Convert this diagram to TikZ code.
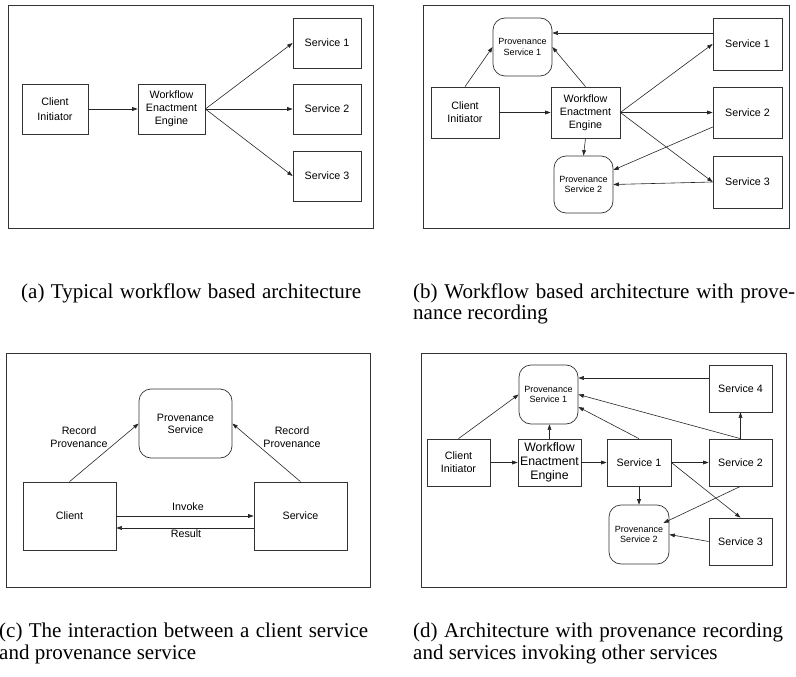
\documentclass[tikz,border=0pt]{standalone}
\usepackage{fontspec}
\setmainfont{Liberation Serif}
\newfontfamily\dsans{Liberation Sans}
\usetikzlibrary{arrows.meta}
\begin{document}
\begin{tikzpicture}[x=1pt,y=-1pt,
  edgeln/.style={draw=black!80, line width=0.7pt},
  nbox/.style={edgeln, rectangle, inner sep=0pt, align=center, font=\dsans\fontsize{10.7}{12.8}\selectfont},
  rbox/.style={nbox, rounded corners=12pt, font=\dsans\fontsize{9}{10.8}\selectfont},
  pframe/.style={draw=black!80, line width=0.8pt},
  arr/.style={draw=black!85, line width=0.6pt, -{Triangle[length=5.5pt,width=3.8pt]}},
  lbl/.style={font=\dsans\fontsize{10.7}{13.3}\selectfont, align=center, inner sep=0pt},
  captxt/.style={font=\fontsize{21}{21}\selectfont, inner sep=0pt, anchor=base west},
]
\useasboundingbox (0,0) rectangle (796,677);

% ---------------- (a)
\draw[pframe] (8,5) rectangle (373,228);
\node[nbox, minimum width=66pt, minimum height=50pt, font=\dsans\fontsize{10.7}{15.6}\selectfont] (aci) at (55,109) {Client\\Initiator};
\node[nbox, minimum width=67pt, minimum height=50pt] (awee) at (171.5,109) {Workflow\\Enactment\\Engine};
\node[nbox, minimum width=68pt, minimum height=50pt] (as1) at (327,43) {Service 1};
\node[nbox, minimum width=68pt, minimum height=50pt] (as2) at (327,109) {Service 2};
\node[nbox, minimum width=68pt, minimum height=50pt] (as3) at (327,176) {Service 3};
\draw[arr] (aci.east) -- (awee.west);
\draw[arr] (awee.east) -- (as1.west);
\draw[arr] (awee.east) -- (as2.west);
\draw[arr] (awee.east) -- (as3.west);

% ---------------- (b)
\draw[pframe] (423,5) rectangle (789,228);
\node[rbox, minimum width=59pt, minimum height=58pt] (bp1) at (522.5,47) {Provenance\\Service 1};
\node[nbox, minimum width=68pt, minimum height=51pt] (bci) at (465,112.5) {Client\\Initiator};
\node[nbox, minimum width=69pt, minimum height=51pt] (bwee) at (585.5,112.5) {Workflow\\Enactment\\Engine};
\node[nbox, minimum width=69pt, minimum height=52pt] (bs1) at (747.5,44) {Service 1};
\node[nbox, minimum width=69pt, minimum height=51pt] (bs2) at (747.5,112.5) {Service 2};
\node[nbox, minimum width=69pt, minimum height=52pt] (bs3) at (747.5,182) {Service 3};
\node[rbox, minimum width=59pt, minimum height=57pt] (bp2) at (583.5,184.5) {Provenance\\Service 2};
\draw[arr] (bci.north) -- (bp1.west);
\draw[arr] (bwee.north) -- (bp1.east);
\draw[arr] ([yshift=11pt]bs1.west) -- ([yshift=14pt]bp1.east);
\draw[arr] (bci.east) -- (bwee.west);
\draw[arr] (bwee.east) -- (bs1.west);
\draw[arr] (bwee.east) -- (bs2.west);
\draw[arr] (bwee.east) -- (bs3.west);
\draw[arr] (bwee.south) -- (bp2.north);
\draw[arr] ([yshift=-14.5pt]bs2.west) -- ([yshift=14.5pt]bp2.east);
\draw[arr] (bs3.west) -- (bp2.east);

% ---------------- (c)
\draw[pframe] (6,353) rectangle (370,587);
\node[rbox, minimum width=93pt, minimum height=69pt, font=\dsans\fontsize{10.7}{12}\selectfont] (cps) at (185.5,423.5) {Provenance\\Service};
\node[nbox, minimum width=93pt, minimum height=68pt] (ccl) at (69.5,516) {Client};
\node[nbox, minimum width=93pt, minimum height=68pt] (csv) at (300.5,516) {Service};
\draw[arr] (ccl.north) -- (cps.west);
\draw[arr] (csv.north) -- (cps.east);
\draw[arr] (ccl.east) -- (csv.west);
\draw[arr] ([yshift=-12pt]csv.west) -- ([yshift=-12pt]ccl.east);
\node[lbl] (recl) at (79,437) {Record\\Provenance};
\node[lbl] (recr) at (292,437) {Record\\Provenance};
\node[lbl] (inv) at (188,507) {Invoke};
\node[lbl] (res) at (186,534) {Result};

% ---------------- (d)
\draw[pframe] (421,353) rectangle (786,587);
\node[rbox, minimum width=59pt, minimum height=59pt] (dp1) at (548.5,394.5) {Provenance\\Service 1};
\node[nbox, minimum width=63pt, minimum height=47pt] (ds4) at (740.5,388.5) {Service 4};
\node[nbox, minimum width=63pt, minimum height=47pt] (dci) at (458.5,462.5) {Client\\Initiator};
\node[nbox, minimum width=63pt, minimum height=47pt, font=\dsans\fontsize{12.3}{14}\selectfont] (dwee) at (549.5,462.5) {Workflow\\Enactment\\Engine};
\node[nbox, minimum width=64pt, minimum height=47pt] (ds1) at (639,462.5) {Service 1};
\node[nbox, minimum width=63pt, minimum height=47pt] (ds2) at (740.5,462.5) {Service 2};
\node[rbox, minimum width=60pt, minimum height=59pt] (dp2) at (639,534.5) {Provenance\\Service 2};
\node[nbox, minimum width=63pt, minimum height=47pt] (ds3) at (740.5,541.5) {Service 3};
\draw[arr] (dci.north) -- (dp1.west);
\draw[arr] (dwee.north) -- (dwee.north |- dp1.south);
\draw[arr] (ds1.north) -- ([yshift=-12.5pt]dp1.east);
\draw[arr] (ds2.north) -- (dp1.east);
\draw[arr] (ds2.north) -- (ds4.south);
\draw[arr] ([yshift=10.5pt]ds4.west) -- ([yshift=16.5pt]dp1.east);
\draw[arr] (dci.east) -- (dwee.west);
\draw[arr] (dwee.east) -- (ds1.west);
\draw[arr] (ds1.east) -- (ds2.west);
\draw[arr] (ds1.east) -- (ds3.north);
\draw[arr] (ds1.south) -- (dp2.north);
\draw[arr] (ds2.south) -- ([xshift=-6pt,yshift=11.5pt]dp2.east);
\draw[arr] (ds3.west) -- (dp2.east);

% ---------------- captions
\node[captxt] (capa) at (21,298) {\makebox[340pt][s]{(a) Typical workflow based architecture}};
\node[captxt] (capb1) at (413,298) {\makebox[382pt][s]{(b) Workflow based architecture with prove-}};
\node[captxt] (capb2) at (413,319) {nance recording};
\node[captxt] (capc1) at (-1,637) {\makebox[369pt][s]{(c) The interaction between a client service}};
\node[captxt] (capc2) at (-1,659) {and provenance service};
\node[captxt] (capd1) at (413,637) {\makebox[370pt][s]{(d) Architecture with provenance recording}};
\node[captxt] (capd2) at (413,659) {and services invoking other services};
\end{tikzpicture}
\end{document}
